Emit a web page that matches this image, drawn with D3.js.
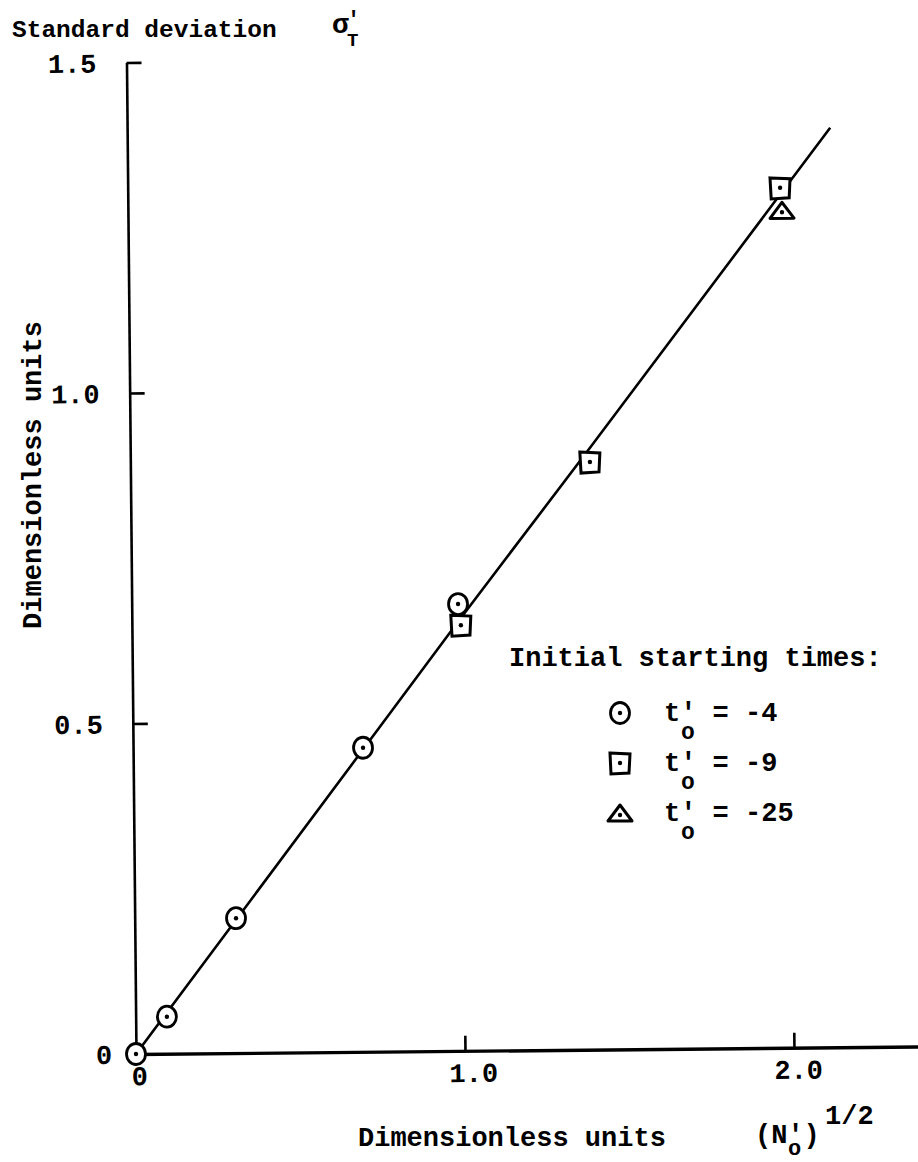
<!DOCTYPE html>
<html>
<head>
<meta charset="utf-8">
<script src="https://cdn.jsdelivr.net/npm/d3@7/dist/d3.min.js"></script>
<style>
  html, body { margin: 0; padding: 0; background: #fff; }
  svg { display: block; }
  text { font-family: "Liberation Mono", "DejaVu Sans Mono", monospace; fill: #000; }
</style>
</head>
<body>
<svg id="chart" width="918" height="1162"></svg>
<script>
// Standard deviation vs sqrt(N'o), three starting-time series
const seriesNames = ["-4", "-9", "-25"];
const markerKinds = ["circle", "square", "triangle"];

const circleX = [0, 0.095, 0.308, 0.699, 0.992];
const circleY = [0, 0.056, 0.204, 0.460, 0.676];

const squareX = [1.000, 1.397, 1.983];
const squareY = [0.644, 0.889, 1.301];

const triangleX = [1.988];
const triangleY = [1.267];

// fitted line
const fitX = [0, 0.70, 1.00, 1.40, 2.137];
const fitY = [0, 0.458, 0.655, 0.912, 1.391];

const xTicks = [0, 1, 2];
const xTickLabels = ["0", "1.0", "2.0"];
const yTicks = [0, 0.5, 1.0, 1.5];
const yTickLabels = ["0", "0.5", "1.0", "1.5"];

const svg = d3.select("#chart");
const ox = 136, oy = 1054;

const x = d3.scaleLinear().domain([0, 2.377]).range([ox, 918]);
const y = d3.scaleLinear().domain([0, 1.5]).range([oy, oy - 991.5]);

const FS = 27;

// plot body, slightly tilted as on the printed page
const plot = svg.append("g").attr("transform", `rotate(-0.55 ${ox} ${oy})`);

// y axis
const yAxis = plot.append("g")
  .attr("transform", `translate(${ox},0)`)
  .call(d3.axisLeft(y).tickValues(yTicks)
    .tickFormat((d, i) => yTickLabels[i])
    .tickSizeInner(-15).tickSizeOuter(0).tickPadding(30));
yAxis.select(".domain").attr("stroke", "#000").attr("stroke-width", 2.6);
yAxis.selectAll(".tick line").attr("stroke", "#000").attr("stroke-width", 2.6)
  .filter(d => d === 0).remove();
yAxis.selectAll(".tick text").attr("font-size", FS).attr("font-family", "Liberation Mono")
  .attr("font-weight", "bold").attr("dy", "0.34em")
  .attr("dx", d => d === 0 ? 6 : 0);

// x axis
const xAxis = plot.append("g")
  .attr("transform", `translate(0,${oy})`)
  .call(d3.axisBottom(x).tickValues(xTicks)
    .tickFormat((d, i) => xTickLabels[i])
    .tickSizeInner(-15).tickSizeOuter(0).tickPadding(12));
xAxis.select(".domain").attr("stroke", "#000").attr("stroke-width", 3.4);
xAxis.selectAll(".tick line").attr("stroke", "#000").attr("stroke-width", 2.6)
  .filter(d => d === 0).remove();
xAxis.selectAll(".tick text").attr("font-size", FS).attr("font-family", "Liberation Mono")
  .attr("font-weight", "bold")
  .attr("dx", (d, i) => i === 1 ? 8 : (i === 0 ? 3 : 4));

// fitted line
const line = d3.line().x(d => x(d[0])).y(d => y(d[1]));
plot.append("path")
  .datum(fitX.map((v, i) => [v, fitY[i]]))
  .attr("d", line)
  .attr("fill", "none").attr("stroke", "#000").attr("stroke-width", 2.6);

// marker drawing
function drawMarker(g, kind, cx, cy) {
  const m = g.append("g").attr("transform", `translate(${cx},${cy})`);
  if (kind === "circle") {
    m.append("ellipse").attr("rx", 9.5).attr("ry", 10.5)
      .attr("fill", "#fff").attr("stroke", "#000").attr("stroke-width", 2.8);
  } else if (kind === "square") {
    m.append("path").attr("d", "M-10,-10 L10,-9 L9,10 L-9,11 Z")
      .attr("fill", "#fff").attr("stroke", "#000").attr("stroke-width", 3);
  } else {
    m.append("path").attr("d", "M-12,8 L0,-8 L12,8 Z")
      .attr("fill", "#fff").attr("stroke", "#000").attr("stroke-width", 3)
      .attr("stroke-linejoin", "round");
  }
  m.append("circle").attr("r", 2.2).attr("cy", kind === "triangle" ? 2 : 0).attr("fill", "#000");
}

const series = [
  { kind: markerKinds[0], xs: circleX, ys: circleY },
  { kind: markerKinds[1], xs: squareX, ys: squareY },
  { kind: markerKinds[2], xs: triangleX, ys: triangleY }
];
series.forEach(s => {
  s.xs.forEach((v, i) => drawMarker(plot, s.kind, x(v), y(s.ys[i])));
});

// titles
function txt(xp, yp, str, opts = {}) {
  return svg.append("text").attr("x", xp).attr("y", yp)
    .attr("font-size", opts.size || FS).attr("font-weight", "bold")
    .attr("text-anchor", opts.anchor || "start").text(str);
}

txt(12, 37, "Standard deviation", { size: 24.5 });
txt(332, 33, "\u03c3", { size: 28 });
txt(347, 26, "'", { size: 22 });
txt(347, 46, "T", { size: 19 });

svg.append("text")
  .attr("transform", "translate(41,475) rotate(-90)")
  .attr("font-size", FS).attr("font-weight", "bold")
  .attr("text-anchor", "middle").text("Dimensionless units");

txt(358, 1146, "Dimensionless units");
txt(755, 1143, "(N')");
txt(788, 1155, "o", { size: 22 });
txt(825, 1124, "1/2");

// legend
txt(509, 666, "Initial starting times:");
const legendY = [713, 763, 813];
seriesNames.forEach((name, i) => {
  drawMarker(svg, markerKinds[i], 620, legendY[i]);
  txt(664, legendY[i] + 8, "t' = " + name);
  txt(681, legendY[i] + 26, "o", { size: 23 });
});
</script>
</body>
</html>
